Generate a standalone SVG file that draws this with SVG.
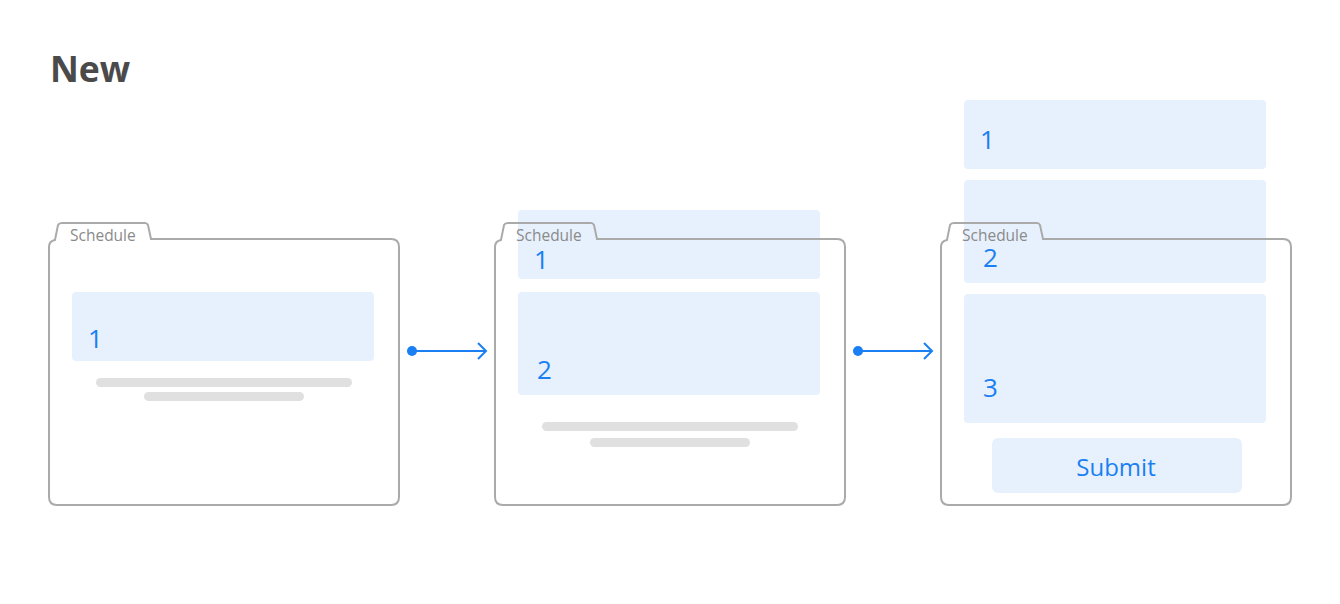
<svg xmlns="http://www.w3.org/2000/svg" width="1340" height="604" viewBox="0 0 1340 604">
<defs>
<style>
.title{font-family:"Open Sans","Liberation Sans",sans-serif;font-weight:bold;font-size:35.5px;fill:#4a4a4a}
.tab{font-family:"Open Sans","Liberation Sans",sans-serif;font-size:15.5px;fill:#8a8a8a}
.num{font-family:"Open Sans","Liberation Sans",sans-serif;font-size:26px;fill:#1a7ff2}
.btn{font-family:"Open Sans","Liberation Sans",sans-serif;font-size:24px;fill:#1a7ff2}
.card{fill:#e7f1fd}
.bar{fill:#e0e0e0}
.frame{fill:none;stroke:#aaaaaa;stroke-width:2}
.conn{stroke:#1a7ff2;stroke-width:2;fill:none}
</style>
<path id="fr" d="M0,258 L0,8 Q0,2 6,1 L9,-14 Q10,-16 13,-16 L96,-16 Q98,-16 99,-14 L102,0 L342,0 Q350,0 350,8 L350,258 Q350,266 342,266 L8,266 Q0,266 0,258 Z"/>
</defs>
<rect width="1340" height="604" fill="#ffffff"/>
<text class="title" x="50" y="82">New</text>

<g id="screen1">
<rect class="card" x="72" y="292" width="302" height="69" rx="4"/>
<text class="num" x="88" y="348">1</text>
<rect class="bar" x="96" y="378" width="256" height="9" rx="4.5"/>
<rect class="bar" x="144" y="392" width="160" height="9" rx="4.5"/>
<use href="#fr" class="frame" x="49" y="239"/>
<text class="tab" x="70" y="241">Schedule</text>
</g>

<g id="screen2">
<rect class="card" x="518" y="210" width="302" height="69" rx="4"/>
<text class="num" x="534" y="269">1</text>
<rect class="card" x="518" y="292" width="302" height="103" rx="4"/>
<text class="num" x="537" y="379">2</text>
<rect class="bar" x="542" y="422" width="256" height="9" rx="4.5"/>
<rect class="bar" x="590" y="438" width="160" height="9" rx="4.5"/>
<use href="#fr" class="frame" x="495" y="239"/>
<text class="tab" x="516" y="241">Schedule</text>
</g>

<g id="screen3">
<rect class="card" x="964" y="100" width="302" height="69" rx="4"/>
<text class="num" x="980" y="149">1</text>
<rect class="card" x="964" y="180" width="302" height="103" rx="4"/>
<text class="num" x="983" y="267">2</text>
<rect class="card" x="964" y="294" width="302" height="129" rx="4"/>
<text class="num" x="983" y="397">3</text>
<rect class="card" x="992" y="438" width="250" height="55" rx="6"/>
<text class="btn" x="1116" y="476" text-anchor="middle">Submit</text>
<use href="#fr" class="frame" x="941" y="239"/>
<text class="tab" x="962" y="241">Schedule</text>
</g>

<g id="connectors">
<circle cx="412" cy="351" r="5" fill="#1a7ff2"/>
<line class="conn" x1="412" y1="351" x2="486" y2="351"/>
<polyline class="conn" points="478,343 486,351 478,359"/>
<circle cx="858" cy="351" r="5" fill="#1a7ff2"/>
<line class="conn" x1="858" y1="351" x2="932" y2="351"/>
<polyline class="conn" points="924,343 932,351 924,359"/>
</g>
</svg>
